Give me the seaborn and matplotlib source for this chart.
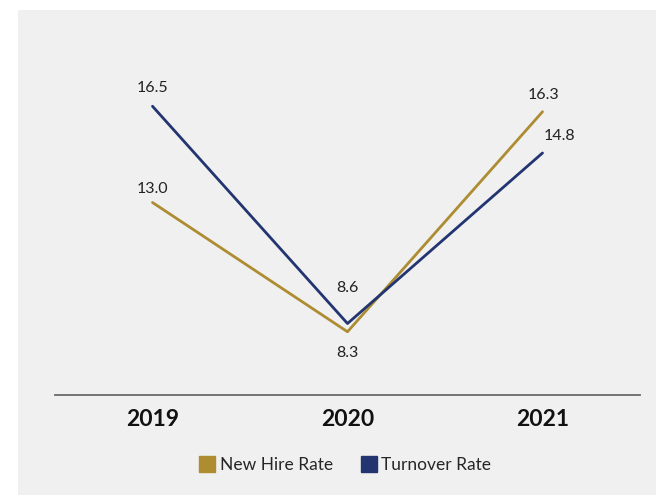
import matplotlib
matplotlib.use("Agg")
import matplotlib.pyplot as plt
from matplotlib.lines import Line2D
import seaborn as sns
import pandas as pd

years = ["2019", "2020", "2021"]
new_hire_rate = [13.0, 8.3, 16.3]
turnover_rate = [16.5, 8.6, 14.8]
series_names = ["New Hire Rate", "Turnover Rate"]
colors = {"New Hire Rate": "#AD8C32", "Turnover Rate": "#223570"}

sns.set_theme(style="white")
plt.rcParams["font.family"] = ["Lato", "DejaVu Sans"]

df = pd.DataFrame({
    "rate": new_hire_rate + turnover_rate,
    "series": [series_names[0]] * 3 + [series_names[1]] * 3,
})
df["pos"] = list(range(len(years))) * 2

fig = plt.figure(figsize=(6.56, 4.95), dpi=100)
fig.patch.set_facecolor("white")

# grey panel behind the chart
bg = fig.add_axes([18 / 656, 0, 1 - 18 / 656, 1 - 10 / 495])
bg.set_facecolor("#F0F0F0")
bg.set_xticks([])
bg.set_yticks([])
for s in bg.spines.values():
    s.set_visible(False)

ax = fig.add_axes([55 / 656, 100 / 495, 585 / 656, 385 / 495])
ax.set_facecolor("none")

sns.lineplot(data=df, x="pos", y="rate", hue="series", palette=colors,
             linewidth=2.0, ax=ax, legend=False, sort=False)

ax.set_xlim(-0.5, 2.5)
ax.set_ylim(6, 20)
ax.set_xticks(range(len(years)))
ax.set_xticklabels(years, fontsize=16.5, fontweight="bold", color="#111111")
ax.set_yticks([])
ax.set_xlabel("")
ax.set_ylabel("")
ax.tick_params(axis="x", length=0, pad=10)
for side in ["top", "left", "right"]:
    ax.spines[side].set_visible(False)
ax.spines["bottom"].set_color("#6a6a6a")
ax.spines["bottom"].set_linewidth(1.3)

# value labels: (x offset in points, y offset in points)
nh_offsets = [(0, 10), (0, -15), (1, 12)]
to_offsets = [(0, 13), (0, 25.5), (12, 12)]
for i, v in enumerate(new_hire_rate):
    dx, dy = nh_offsets[i]
    ax.annotate(f"{v:.1f}", (i, v), xytext=(dx, dy), textcoords="offset points",
                ha="center", va="center", fontsize=11.5, color="#222222")
for i, v in enumerate(turnover_rate):
    dx, dy = to_offsets[i]
    ax.annotate(f"{v:.1f}", (i, v), xytext=(dx, dy), textcoords="offset points",
                ha="center", va="center", fontsize=11.5, color="#222222")

handles = [Line2D([], [], marker="s", linestyle="none", markersize=12,
                  markerfacecolor=colors[n], markeredgecolor=colors[n], label=n)
           for n in series_names]
fig.legend(handles=handles, loc="center", bbox_to_anchor=(345 / 656, 30 / 495),
           ncol=2, frameon=False, fontsize=12.5, handletextpad=0.2,
           columnspacing=1.6, handlelength=1.0)

fig.savefig("out.png", dpi=100)
